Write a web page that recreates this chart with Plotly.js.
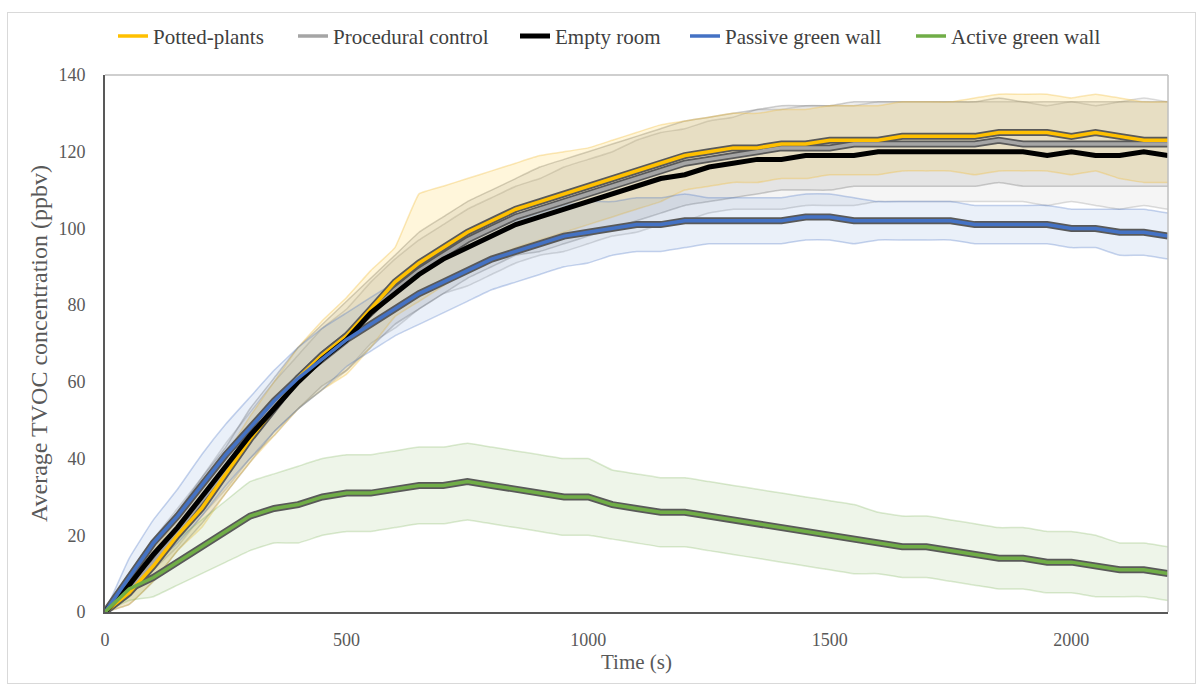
<!DOCTYPE html>
<html>
<head>
<meta charset="utf-8">
<script src="https://cdn.plot.ly/plotly-3.0.1.min.js"></script>
<style>
  html, body { margin: 0; padding: 0; background: #fff; }
  #wrap { position: relative; width: 1203px; height: 689px; }
  #chart { position: absolute; left: 0; top: 0; width: 1203px; height: 689px; }
  #frame { position: absolute; left: 7px; top: 12px; width: 1187px; height: 670px;
           border: 1.5px solid #d9d9d9; pointer-events: none; }
</style>
</head>
<body>
<div id="wrap">
  <div id="chart"></div>
  <div id="frame"></div>
</div>
<script>
// Time (s)
const time = [0,50,100,150,200,250,300,350,400,450,500,550,600,650,700,750,800,850,900,950,
  1000,1050,1100,1150,1200,1250,1300,1350,1400,1450,1500,1550,1600,1650,1700,1750,1800,1850,
  1900,1950,2000,2050,2100,2150,2200];

const seriesNames = ["Potted-plants","Procedural control","Empty room","Passive green wall","Active green wall"];

// Average TVOC concentration (ppbv)
const pottedPlants = [0,5,12,20,27,36,45,53,61,67,72,79,86,91,95,99,102,105,107,109,
  111,113,115,117,119,120,121,121,122,122,123,123,123,124,124,124,124,125,125,125,124,125,124,123,123];
const proceduralControl = [0,6,13,21,29,37,46,54,61,67,72,78,84,89,93,97,100,103,105,107,
  109,111,113,115,117,118,119,120,121,121,121,122,122,122,122,122,122,123,122,122,122,122,122,122,122];
const emptyRoom = [0,7,15,22,30,38,46,53,60,66,71,78,83,88,92,95,98,101,103,105,
  107,109,111,113,114,116,117,118,118,119,119,119,120,120,120,120,120,120,120,119,120,119,119,120,119];
const passiveGreenWall = [0,9,18,25,33,41,48,55,61,66,71,75,79,83,86,89,92,94,96,98,
  99,100,101,101,102,102,102,102,102,103,103,102,102,102,102,102,101,101,101,101,100,100,99,99,98];
const activeGreenWall = [0,6,9,13,17,21,25,27,28,30,31,31,32,33,33,34,33,32,31,30,
  30,28,27,26,26,25,24,23,22,21,20,19,18,17,17,16,15,14,14,13,13,12,11,11,10];

// Error bar extents (ppbv): plus and minus
const pottedPlantsErrPlus = [0,3,4,4,5,5,6,7,8,9,10,10,9,18,16,14,13,12,12,11,
  10,10,10,10,9,9,9,9,9,9,9,9,9,9,9,9,10,10,10,10,10,10,10,10,10];
const pottedPlantsErrMinus = [0,3,4,4,5,5,6,7,8,9,10,10,9,10,10,10,10,10,10,10,
  10,10,10,10,9,9,9,9,9,9,9,9,9,9,9,9,10,10,10,10,10,10,11,11,11];
const proceduralControlErr = [0,4,5,5,6,6,7,7,8,8,9,9,9,10,10,10,10,10,11,11,
  11,11,11,11,11,11,11,11,11,11,11,11,11,11,11,11,11,11,11,11,11,11,11,11,11];
const emptyRoomErr = [0,3,4,5,5,6,6,7,7,8,8,8,9,9,9,10,10,10,10,11,
  11,11,12,12,12,12,12,13,13,13,13,13,13,13,13,13,13,13,13,13,13,13,14,14,14];
const passiveGreenWallErr = [0,5,6,7,8,8,8,8,8,8,7,7,7,8,8,8,8,8,8,8,
  8,7,7,7,7,6,6,6,6,6,6,6,5,5,5,5,5,5,5,5,5,5,6,6,6];
const activeGreenWallErr = [0,3,5,6,7,8,9,9,10,10,10,10,10,10,10,10,10,10,10,10,
  10,9,9,9,9,9,9,9,9,9,9,9,8,8,8,8,8,8,8,8,8,8,7,7,7];

const lineColors = ["#FFC000","#A5A5A5","#000000","#4472C4","#70AD47"];
const bandFill = ["rgba(255,192,0,0.14)","rgba(150,150,150,0.17)","rgba(130,130,130,0.08)","rgba(68,114,196,0.11)","rgba(112,173,71,0.12)"];
const bandEdge = ["rgba(240,190,60,0.35)","rgba(120,120,120,0.35)","rgba(120,120,120,0.25)","rgba(68,114,196,0.3)","rgba(112,173,71,0.25)"];

const values = [pottedPlants, proceduralControl, emptyRoom, passiveGreenWall, activeGreenWall];
const errPlus = [pottedPlantsErrPlus, proceduralControlErr, emptyRoomErr, passiveGreenWallErr, activeGreenWallErr];
const errMinus = [pottedPlantsErrMinus, proceduralControlErr, emptyRoomErr, passiveGreenWallErr, activeGreenWallErr];

const traces = [];
// bands
const bandOrder = [1,2,0,3,4];
bandOrder.forEach(i => {
  const lo = values[i].map((v,k) => Math.max(0, v - errMinus[i][k]));
  const hi = values[i].map((v,k) => v + errPlus[i][k]);
  traces.push({x: time, y: lo, mode: 'lines', line: {color: bandEdge[i], width: 1.5, shape: 'spline', smoothing: 0.3},
    showlegend: false, hoverinfo: 'skip'});
  traces.push({x: time, y: hi, mode: 'lines', fill: 'tonexty', fillcolor: bandFill[i],
    line: {color: bandEdge[i], width: 1.5, shape: 'spline', smoothing: 0.3}, showlegend: false, hoverinfo: 'skip'});
});
// lines with dark outline
const lineOrder = [1,0,2,3,4];
lineOrder.forEach(i => {
  if (i !== 2) {
    traces.push({x: time, y: values[i], mode: 'lines', line: {color: '#595959', width: 7}, showlegend: false, hoverinfo: 'skip'});
  }
});
const legendIds = ['legend', 'legend2', 'legend3', 'legend4', 'legend5'];
lineOrder.forEach(i => {
  traces.push({x: time, y: values[i], name: seriesNames[i], mode: 'lines', legend: legendIds[i],
    line: {color: lineColors[i], width: i === 2 ? 5 : 3.5}, showlegend: true});
});

const tickFont = {family: 'Liberation Serif, Times New Roman, serif', size: 18, color: '#595959'};
const titleFont = {family: 'Liberation Serif, Times New Roman, serif', size: 21, color: '#595959'};
const yTitleFont = {family: 'Liberation Serif, Times New Roman, serif', size: 24, color: '#595959'};
const legendFont = {family: tickFont.family, size: 21, color: '#404040'};

// legend item left edges in pixels (styling)
const legendLeftPx = [113, 293, 515, 685, 911];

const layout = {
  width: 1203, height: 689,
  margin: {l: 105, r: 35, t: 75, b: 77, autoexpand: false},
  paper_bgcolor: '#ffffff', plot_bgcolor: '#ffffff',
  font: tickFont,
  showlegend: true,
  xaxis: {range: [0, 2200], tickvals: [0,500,1000,1500,2000], showgrid: false, zeroline: false,
    showline: true, linecolor: '#595959', linewidth: 2, ticks: 'outside', ticklen: 10, tickcolor: 'rgba(0,0,0,0)',
    tickfont: tickFont, title: {text: 'Time (s)', font: titleFont, standoff: 6}},
  yaxis: {range: [0, 140], dtick: 20, showgrid: false, zeroline: false,
    showline: true, linecolor: '#595959', linewidth: 2, ticks: 'outside', ticklen: 14, tickcolor: 'rgba(0,0,0,0)',
    tickfont: tickFont, title: {text: 'Average TVOC concentration (ppbv)', font: yTitleFont, standoff: 4}},
  shapes: [
    {type: 'line', xref: 'paper', yref: 'paper', x0: 0, x1: 1, y0: 1, y1: 1, line: {color: '#bfbfbf', width: 1.5}},
    {type: 'line', xref: 'paper', yref: 'paper', x0: 1, x1: 1, y0: 0, y1: 1, line: {color: '#bfbfbf', width: 1.5}}
  ]
};
legendIds.forEach((id, k) => {
  layout[id] = {orientation: 'h', x: (legendLeftPx[k] - 105) / 1063, xanchor: 'left', y: 1.072, yanchor: 'middle',
    font: legendFont, itemwidth: 30, bgcolor: 'rgba(0,0,0,0)'};
});

Plotly.newPlot('chart', traces, layout, {displayModeBar: false, staticPlot: true});
</script>
</body>
</html>
